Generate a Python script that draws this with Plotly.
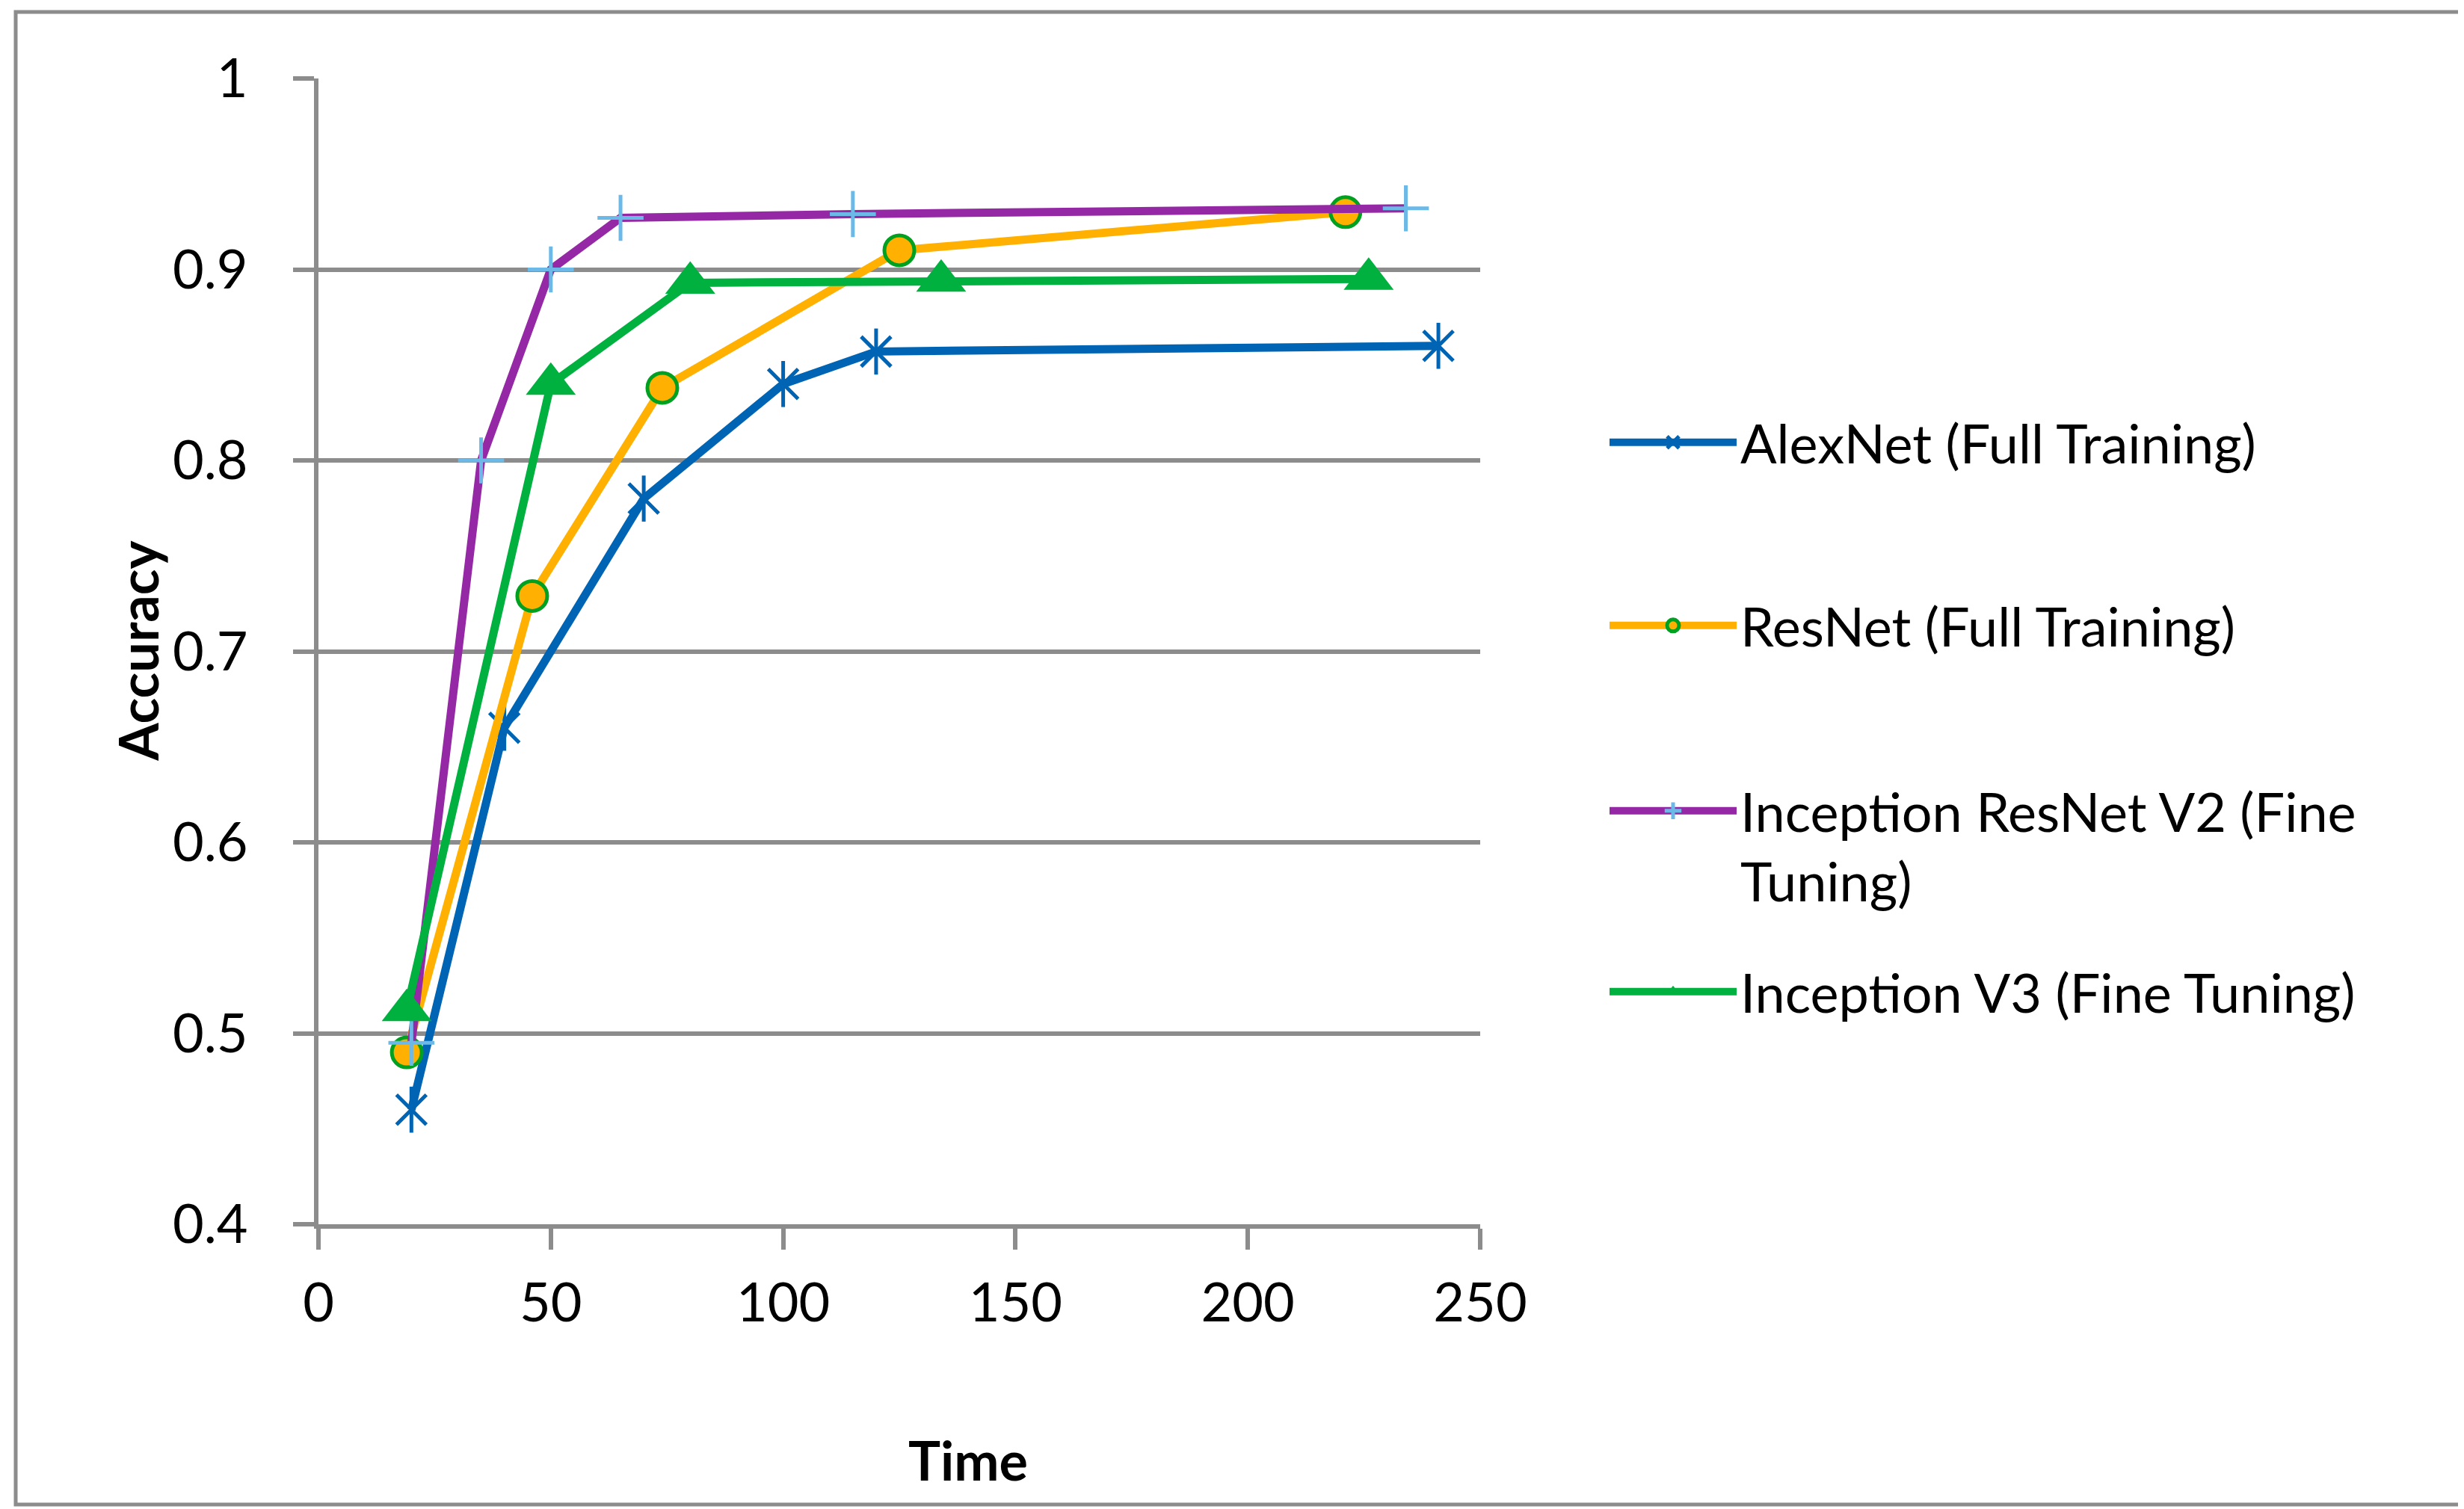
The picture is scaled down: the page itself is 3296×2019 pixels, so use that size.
import plotly.graph_objects as go

# values
alex_x = [20, 40, 70, 100, 120, 241]
alex_y = [0.46, 0.66, 0.78, 0.84, 0.857, 0.86]
resnet_x = [19, 46, 74, 125, 221]
resnet_y = [0.49, 0.729, 0.838, 0.91, 0.93]
irv2_x = [20, 35, 50, 65, 115, 234]
irv2_y = [0.495, 0.80, 0.90, 0.927, 0.929, 0.932]
iv3_x = [19, 50, 80, 134, 226]
iv3_y = [0.512, 0.84, 0.893, 0.894, 0.895]

names = ["AlexNet (Full Training)", "ResNet (Full Training)",
         "Inception ResNet V2 (Fine<br>Tuning)", "Inception V3 (Fine Tuning)"]

FONT = "Lato"
GRID = "#8C8C8C"
W, H = 3296, 2019
L, R, T, B = 418, 1972, 97, 1630


def px_x(p):
    return (p - L) / (R - L)


def px_y(p):
    return (B - p) / (B - T)


fig = go.Figure()
fig.add_trace(go.Scatter(
    x=alex_x, y=alex_y, name=names[0], mode="lines+markers", legend="legend",
    legendgroup="alex",
    line=dict(color="#0064B4", width=11),
    marker=dict(symbol="x-thin-open", size=40, color="#0064B4", line=dict(color="#0064B4", width=5))))
# vertical stroke that turns the x into Excel's star marker
fig.add_trace(go.Scatter(
    x=alex_x, y=alex_y, mode="markers", legendgroup="alex", showlegend=False,
    hoverinfo="skip",
    marker=dict(symbol="line-ns-open", size=44, color="#0064B4", line=dict(color="#0064B4", width=5))))
fig.add_trace(go.Scatter(
    x=resnet_x, y=resnet_y, name=names[1], mode="lines+markers", legend="legend2",
    line=dict(color="#FFB000", width=11),
    marker=dict(symbol="circle", size=40, color="#FFB000", line=dict(color="#00A020", width=5))))
fig.add_trace(go.Scatter(
    x=irv2_x, y=irv2_y, name=names[2], mode="lines+markers", legend="legend3",
    line=dict(color="#9428A5", width=11),
    marker=dict(symbol="cross-thin-open", size=44, color="#6CB8E6", line=dict(color="#6CB8E6", width=5))))
fig.add_trace(go.Scatter(
    x=iv3_x, y=iv3_y, name=names[3], mode="lines+markers", legend="legend4",
    line=dict(color="#00B140", width=11),
    marker=dict(symbol="triangle-up", size=58, color="#00B140", line=dict(width=0))))

leg_x = px_x(2140)
leg_common = dict(x=leg_x, xanchor="left", yanchor="middle", bgcolor="rgba(0,0,0,0)",
                  font=dict(family=FONT, size=72, color="black"), itemwidth=170,
                  valign="top")

fig.update_layout(
    width=W, height=H, showlegend=True,
    margin=dict(l=L, r=W - R, t=T, b=H - B, autoexpand=False),
    paper_bgcolor="white", plot_bgcolor="white",
    font=dict(family=FONT, size=72, color="black"),
    legend=dict(y=px_y(584), **leg_common),
    legend2=dict(y=px_y(829), **leg_common),
    legend3=dict(y=px_y(1124), **leg_common),
    legend4=dict(y=px_y(1319), **leg_common),
)
fig.update_xaxes(
    range=[0, 250], dtick=50, showgrid=False, zeroline=False,
    showline=True, linecolor=GRID, linewidth=6,
    ticks="outside", ticklen=28, tickwidth=6, tickcolor=GRID,
    ticklabelstandoff=10, tickfont=dict(family=FONT, size=72),
)
fig.update_yaxes(
    range=[0.4, 1], dtick=0.1, showgrid=True, gridcolor=GRID, gridwidth=6,
    zeroline=False, showline=True, linecolor=GRID, linewidth=6,
    ticks="outside", ticklen=28, tickwidth=6, tickcolor=GRID,
    ticklabelstandoff=46, tickfont=dict(family=FONT, size=72),
)

# axis titles placed like the original chart
fig.add_annotation(text="<b>Accuracy</b>", x=px_x(175), y=0.5, xref="paper", yref="paper",
                   xanchor="center", yanchor="middle",
                   textangle=-90, showarrow=False, font=dict(family=FONT, size=72))
fig.add_annotation(text="<b>Time</b>", x=px_x(1287), y=px_y(1945), xref="paper", yref="paper",
                   xanchor="center", yanchor="middle",
                   showarrow=False, font=dict(family=FONT, size=72))

# chart area border
fig.add_shape(type="rect", xref="paper", yref="paper",
              x0=px_x(13), x1=px_x(3288), y0=px_y(2005), y1=px_y(8),
              line=dict(color=GRID, width=5), layer="below")

fig.write_html("out.html")
